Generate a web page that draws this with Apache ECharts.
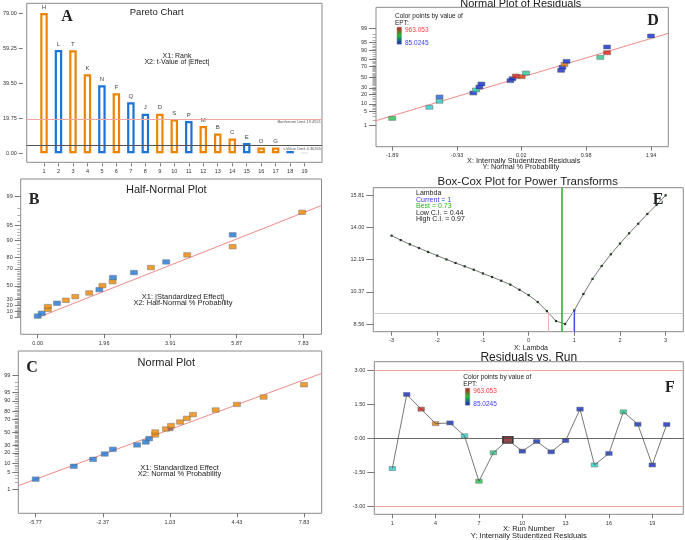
<!DOCTYPE html>
<html>
<head>
<meta charset="utf-8">
<script src="https://cdn.jsdelivr.net/npm/echarts@6/dist/echarts.min.js"></script>
<style>
  html, body { margin: 0; padding: 0; background: #fff; }
  #main { width: 685px; height: 540px; }
</style>
</head>
<body>
<div id="main"></div>
<script>
// ---- A: Pareto chart ----
const aRank = [1, 2, 3, 4, 5, 6, 7, 8, 9, 10, 11, 12, 13, 14, 15, 16, 17, 18, 19];
const aTerm = ['H', 'L', 'T', 'K', 'N', 'F', 'Q', 'J', 'D', 'S', 'P', 'M', 'B', 'C', 'E', 'O', 'G', '', ''];
const aTValue = [79.0, 58.2, 58.0, 44.5, 38.3, 33.8, 28.7, 22.3, 22.3, 19.1, 18.2, 15.4, 11.1, 8.3, 5.8, 3.2, 3.2, 1.3, 0.35];
const aSign = [1, -1, 1, 1, -1, 1, -1, -1, 1, 1, -1, 1, 1, 1, -1, 1, 1, -1, 0];
const aYTicks = [0, 19.75, 39.5, 59.25, 79];
const aBonferroni = 19.4551;
const aTLimit = 4.30265;

// ---- B: half-normal plot ----
const bEffect = [0.0, 0.12, 0.30, 0.30, 0.57, 0.83, 1.11, 1.52, 1.82, 1.91, 2.21, 2.22, 2.84, 3.34, 3.79, 4.41, 5.75, 5.75, 7.80];
const bProb = [2.6, 7.3, 14.0, 18.6, 24.0, 28.8, 34.5, 40.0, 44.9, 50.4, 55.6, 60.6, 66.2, 71.3, 76.4, 81.8, 86.9, 92.2, 97.5];
const bSign = [-1, -1, 1, 1, -1, 1, 1, 1, -1, 1, 1, -1, -1, 1, -1, 1, 1, -1, 1];
const bFitX = [0, 8.37];
const bFitP = [0, 98.3];
const bXTicks = [0, 1.96, 3.91, 5.87, 7.83];
const bYLabels = [0, 10, 20, 30, 50, 70, 80, 90, 95, 99];

// ---- C: normal plot ----
const cEffect = [-5.77, -3.84, -2.86, -2.27, -1.86, -0.63, -0.19, -0.02, 0.29, 0.29, 0.83, 1.07, 1.09, 1.55, 1.89, 2.20, 3.35, 4.43, 5.78, 7.83];
const cProb = [2.8, 8.3, 13.5, 18.8, 24.4, 30.3, 34.6, 39.8, 45.7, 50.5, 55.4, 55.4, 60.7, 66.3, 71.6, 76.5, 81.9, 87.3, 92.5, 97.4];
const cSign = [-1, -1, -1, -1, -1, -1, -1, -1, 1, 1, 1, 0, 1, 1, 1, 1, 1, 1, 1, 1];
const cFitX = [-6.65, 8.725];
const cFitP = [1.47, 99.2];
const cXTicks = [-5.77, -2.37, 1.03, 4.43, 7.83];
const nYLabels = [1, 5, 10, 20, 30, 50, 70, 80, 90, 95, 99];

// ---- D: normal plot of residuals ----
const dResid = [-1.89, -1.34, -1.19, -1.19, -0.69, -0.65, -0.60, -0.57, -0.14, -0.11, -0.06, 0.025, 0.09, 0.61, 0.63, 0.66, 0.69, 1.19, 1.29, 1.29, 1.94];
const dProb = [2.4, 7.4, 12.3, 17.0, 22.2, 26.8, 31.6, 36.9, 43.1, 46.8, 51.9, 50.6, 57.5, 62.5, 67.7, 72.7, 77.3, 82.6, 87.7, 92.4, 97.5];
const dEpt = [600, 430, 440, 220, 120, 470, 100, 100, 110, 110, 963, 900, 500, 100, 100, 790, 100, 520, 960, 100, 100];
const dFitX = [-2.13, 2.196];
const dFitP = [1.85, 98.15];
const dXTicks = [-1.89, -0.93, 0.02, 0.98, 1.94];

// ---- E: Box-Cox ----
const eLambda = [-3, -2.8, -2.6, -2.4, -2.2, -2, -1.8, -1.6, -1.4, -1.2, -1, -0.8, -0.6, -0.4, -0.2, 0,
  0.2, 0.4, 0.6, 0.8, 1, 1.2, 1.4, 1.6, 1.8, 2, 2.2, 2.4, 2.6, 2.8, 3];
const eLnResid = [13.54, 13.29, 13.05, 12.84, 12.62, 12.41, 12.20, 12.00, 11.81, 11.62, 11.41, 11.21, 11.00, 10.78, 10.49, 10.19,
  9.80, 9.29, 8.73, 8.56, 9.33, 10.25, 11.10, 11.83, 12.49, 13.09, 13.67, 14.21, 14.76, 15.27, 15.81];
const eYTicks = [8.56, 10.37, 12.19, 14.00, 15.81];
const eCI = 9.18, eBest = 0.73, eLow = 0.44, eHigh = 0.97, eCurrent = 1;

// ---- F: residuals vs run ----
const fRun = [1, 2, 3, 4, 5, 6, 7, 8, 9, 10, 11, 12, 13, 14, 15, 16, 17, 18, 19, 20];
const fResid = [-1.33, 1.95, 1.30, 0.66, 0.69, 0.12, -1.89, -0.63, -0.06, -0.56, -0.13, -0.59, -0.09, 1.30, -1.17, -0.66, 1.18, 0.63, -1.17, 0.62];
const fEpt = [430, 100, 960, 790, 100, 430, 600, 520, 963, 100, 110, 100, 110, 100, 440, 120, 520, 100, 100, 100];
const fSelected = 9;
const eptRange = [85.0245, 963.053];

// normal quantile (Acklam)
function probit(p) {
  const a = [-3.969683028665376e+01, 2.209460984245205e+02, -2.759285104469687e+02, 1.383577518672690e+02, -3.066479806614716e+01, 2.506628277459239e+00];
  const b = [-5.447609879822406e+01, 1.615858368580409e+02, -1.556989798598866e+02, 6.680131188771972e+01, -1.328068155288572e+01];
  const c = [-7.784894002430293e-03, -3.223964580411365e-01, -2.400758277161838e+00, -2.549732539343734e+00, 4.374664141464968e+00, 2.938163982698783e+00];
  const d = [7.784695709041462e-03, 3.224671290700398e-01, 2.445134137142996e+00, 3.754408661907416e+00];
  const pl = 0.02425;
  if (p < pl) {
    const q = Math.sqrt(-2 * Math.log(p));
    return (((((c[0] * q + c[1]) * q + c[2]) * q + c[3]) * q + c[4]) * q + c[5]) / ((((d[0] * q + d[1]) * q + d[2]) * q + d[3]) * q + 1);
  }
  if (p > 1 - pl) {
    const q = Math.sqrt(-2 * Math.log(1 - p));
    return -(((((c[0] * q + c[1]) * q + c[2]) * q + c[3]) * q + c[4]) * q + c[5]) / ((((d[0] * q + d[1]) * q + d[2]) * q + d[3]) * q + 1);
  }
  const q = p - 0.5, r = q * q;
  return (((((a[0] * r + a[1]) * r + a[2]) * r + a[3]) * r + a[4]) * r + a[5]) * q / (((((b[0] * r + b[1]) * r + b[2]) * r + b[3]) * r + b[4]) * r + 1);
}
const zN = pct => probit(pct / 100);            // normal % probability scale
const zH = pct => probit(0.5 + pct / 200);      // half-normal % probability scale

function minorList(skip) {
  const out = [];
  for (let p = 1; p < 10; p++) out.push(p);
  for (let p = 10; p <= 90; p += 2) out.push(p);
  for (let p = 91; p < 100; p++) out.push(p);
  return out.filter(p => skip.indexOf(p) < 0);
}

const FONT = '"Liberation Sans", Arial, sans-serif';
const ORANGE = '#EC8400', BLUE = '#1C74D6', GRAY_FRAME = '#8a8a8a';
const FIT_RED = '#f08a8a';
const signColor = s => s > 0 ? ORANGE : (s < 0 ? BLUE : '#8b2a2a');

function valAxis(grid, min, max, ticks, fmt, o) {
  o = o || {};
  const tick = o.tick || 4;
  return {
    type: 'value', gridIndex: grid, min: min, max: max,
    position: o.position, offset: o.offset || 0,
    axisLine: { show: false, onZero: false },
    splitLine: { show: false },
    axisTick: { show: true, length: tick, customValues: o.tickValues || ticks,
      lineStyle: { color: o.tickColor || '#555', width: 0.8 } },
    axisLabel: { show: o.noLabel ? false : true, customValues: ticks, formatter: fmt,
      fontSize: 5.5, color: '#333', fontFamily: FONT, margin: tick + 2 }
  };
}
function probAxis(grid, min, max, labels, zf, o) {
  const zs = labels.map(zf);
  return valAxis(grid, min, max, zs, v => {
    for (let i = 0; i < zs.length; i++) if (Math.abs(zs[i] - v) < 1e-6) return String(labels[i]);
    return '';
  }, o);
}

const fx2 = v => v.toFixed(2);
const chart = echarts.init(document.getElementById('main'), null, { renderer: 'canvas' });

const grids = [
  { left: 25, top: 3.3, width: 297, height: 159 },        // A
  { left: 20.7, top: 179, width: 300.8, height: 155.3 },   // B
  { left: 18.3, top: 351, width: 303.4, height: 162.3 },   // C
  { left: 376, top: 7.3, width: 292.3, height: 139.4 },    // D
  { left: 373.3, top: 187.7, width: 310, height: 144 },    // E
  { left: 374.3, top: 361.7, width: 309, height: 152.6 }   // F
].map(g => Object.assign({ show: true, borderColor: GRAY_FRAME, borderWidth: 1, backgroundColor: 'transparent' }, g));

const xAxes = [
  valAxis(0, -0.19, 20.2, aRank, v => String(v), { tick: 3, offset: 1, position: 'bottom' }),
  valAxis(1, -0.5, 8.37, bXTicks, fx2, { tick: 4, position: 'bottom' }),
  valAxis(2, -6.65, 8.725, cXTicks, fx2, { tick: 4, position: 'bottom' }),
  valAxis(3, -2.13, 2.196, dXTicks, fx2, { tick: 4, position: 'bottom' }),
  valAxis(4, -3.40, 3.387, [-3, -2, -1, 0, 1, 2, 3], v => String(v), { tick: 4, position: 'bottom' }),
  valAxis(5, -0.246, 21.15, [1, 4, 7, 10, 13, 16, 19], v => String(v), { tick: 4, position: 'bottom' })
];
const minorOpt = (vals) => ({ noLabel: true, tick: 3.5, tickColor: '#9a9a9a', tickValues: vals, position: 'left' });
const yAxes = [
  valAxis(0, -5.07, 84.5, aYTicks, fx2, { tick: 4, offset: 4, position: 'left' }),
  probAxis(1, -0.355, 2.95, bYLabels, zH, { tick: 6, position: 'left' }),
  probAxis(2, -3.306, 3.32, nYLabels, zN, { tick: 6, position: 'left' }),
  probAxis(3, -3.33, 3.33, nYLabels, zN, { tick: 7, position: 'left' }),
  valAxis(4, 8.128, 16.24, eYTicks, fx2, { tick: 7, position: 'left' }),
  valAxis(5, -3.354, 3.40, [-3, -1.5, 0, 1.5, 3], fx2, { tick: 7, position: 'left' }),
  // minor probability ticks
  valAxis(1, -0.355, 2.95, [], null, minorOpt(minorList(bYLabels).map(zH))),
  valAxis(2, -3.306, 3.32, [], null, minorOpt(minorList(nYLabels).map(zN))),
  valAxis(3, -3.33, 3.33, [], null, minorOpt(minorList(nYLabels).map(zN)))
];

const ptStyle = (c) => ({ color: c, borderColor: '#777', borderWidth: 0.6 });
const limitLabel = txt => ({ show: true, position: 'insideEndBottom', formatter: txt, fontSize: 4, color: '#555', fontFamily: FONT, distance: 1 });

const series = [
  // 0 A bars
  {
    type: 'bar', xAxisIndex: 0, yAxisIndex: 0, barWidth: 7.5,
    data: aRank.map((r, i) => ({
      value: [r, aTValue[i]],
      itemStyle: aSign[i] === 0
        ? { color: '#c8c8c8', borderWidth: 0 }
        : (aTValue[i] < 2 ? { color: signColor(aSign[i]), borderWidth: 0 }
          : { color: '#fff', borderColor: signColor(aSign[i]), borderWidth: 2.2 })
    })),
    label: { show: true, position: 'top', distance: 3, fontSize: 6, color: '#444', fontFamily: FONT,
      formatter: p => aTerm[p.dataIndex] },
    markLine: {
      silent: true, symbol: 'none', animation: false,
      data: [
        { yAxis: aBonferroni, lineStyle: { color: '#f4a3a3', width: 1.2, type: 'solid' }, label: limitLabel('Bonferroni Limit 19.4551') },
        { yAxis: aTLimit, lineStyle: { color: '#555', width: 1, type: 'solid' }, label: limitLabel('t-Value Limit 4.30265') }
      ]
    }
  },
  // 1 B points
  {
    type: 'scatter', xAxisIndex: 1, yAxisIndex: 1, symbol: 'rect', symbolSize: [7, 4.5],
    data: bEffect.map((x, i) => ({ value: [x, zH(bProb[i])], itemStyle: ptStyle(signColor(bSign[i])) }))
  },
  // 2 B fit
  {
    type: 'line', xAxisIndex: 1, yAxisIndex: 1, symbol: 'none', z: 1,
    lineStyle: { color: FIT_RED, width: 1 },
    data: bFitX.map((x, i) => [x, zH(bFitP[i])])
  },
  // 3 C points
  {
    type: 'scatter', xAxisIndex: 2, yAxisIndex: 2, symbol: 'rect',
    data: cEffect.map((x, i) => ({
      value: [x, zN(cProb[i])],
      symbolSize: cSign[i] === 0 ? [5, 3.5] : [7, 4.5],
      itemStyle: ptStyle(cSign[i] === 0 ? '#a0504a' : signColor(cSign[i]))
    }))
  },
  // 4 C fit
  {
    type: 'line', xAxisIndex: 2, yAxisIndex: 2, symbol: 'none', z: 1,
    lineStyle: { color: FIT_RED, width: 1 },
    data: cFitX.map((x, i) => [x, zN(cFitP[i])])
  },
  // 5 D points
  {
    type: 'scatter', xAxisIndex: 3, yAxisIndex: 3, symbol: 'rect', symbolSize: [7, 4],
    itemStyle: { borderColor: '#666', borderWidth: 0.6 },
    data: dResid.map((x, i) => [x, zN(dProb[i]), dEpt[i]])
  },
  // 6 D fit
  {
    type: 'line', xAxisIndex: 3, yAxisIndex: 3, symbol: 'none', z: 1,
    lineStyle: { color: FIT_RED, width: 1 },
    data: dFitX.map((x, i) => [x, zN(dFitP[i])])
  },
  // 7 E curve
  {
    type: 'line', xAxisIndex: 4, yAxisIndex: 4, symbol: 'rect', symbolSize: 2.2,
    itemStyle: { color: '#1f3a1f' },
    lineStyle: { color: '#555', width: 0.8 },
    data: eLambda.map((x, i) => [x, eLnResid[i]]),
    markLine: {
      silent: true, symbol: 'none', animation: false, label: { show: false },
      data: [
        { yAxis: eCI, lineStyle: { color: '#cfcfcf', width: 1, type: 'solid' } },
        [{ coord: [eLow, 8.128], lineStyle: { color: '#f6b0b0', width: 1, type: 'solid' } }, { coord: [eLow, eCI] }],
        [{ coord: [eHigh, 8.128], lineStyle: { color: '#f6b0b0', width: 1, type: 'solid' } }, { coord: [eHigh, eCI] }],
        [{ coord: [eCurrent, 8.128], lineStyle: { color: '#4646ff', width: 1.2, type: 'solid' } },
         { coord: [eCurrent, eLnResid[eLambda.indexOf(eCurrent)]] }],
        { xAxis: eBest, lineStyle: { color: '#2cb52c', width: 1.6, type: 'solid' } }
      ]
    }
  },
  // 8 F connecting line
  {
    type: 'line', xAxisIndex: 5, yAxisIndex: 5, symbol: 'none',
    lineStyle: { color: '#555', width: 0.8 },
    data: fRun.map((r, i) => [r, fResid[i]]),
    markLine: {
      silent: true, symbol: 'none', animation: false, label: { show: false },
      data: [
        { yAxis: 3, lineStyle: { color: '#f4a3a3', width: 1.2, type: 'solid' } },
        { yAxis: -3, lineStyle: { color: '#f4a3a3', width: 1.2, type: 'solid' } },
        { yAxis: 0, lineStyle: { color: '#444', width: 0.8, type: 'solid' } }
      ]
    }
  },
  // 9 F selected run highlight
  {
    type: 'scatter', xAxisIndex: 5, yAxisIndex: 5, symbol: 'rect', symbolSize: [10, 6.5],
    itemStyle: { color: '#8a1c1c', borderColor: '#222', borderWidth: 1.4 },
    data: [[fRun[fSelected - 1], fResid[fSelected - 1]]]
  },
  // 10 F points
  {
    type: 'scatter', xAxisIndex: 5, yAxisIndex: 5, symbol: 'rect', symbolSize: [6.5, 4],
    itemStyle: { borderColor: '#666', borderWidth: 0.6 },
    data: fRun.map((r, i) => [r, fResid[i], fEpt[i]]).filter((d, i) => i !== fSelected - 1)
  }
];

function txt(x, y, s, size, o) {
  o = o || {};
  return {
    type: 'text', x: x, y: y, silent: true, z: 100,
    style: {
      text: s, fill: o.fill || '#222',
      font: (o.weight || 'normal') + ' ' + size + 'px ' + (o.family || FONT),
      align: o.align || 'center', verticalAlign: 'middle'
    }
  };
}
const SERIF = '"Liberation Serif", "Times New Roman", serif';
function eptLegend(x, y) {
  return [
    txt(x, y, 'Color points by value of', 6.5, { align: 'left' }),
    txt(x, y + 6.6, 'EPT:', 6.5, { align: 'left' }),
    {
      type: 'rect', silent: true, z: 100,
      shape: { x: x + 2, y: y + 10.5, width: 4.5, height: 17 },
      style: {
        fill: new echarts.graphic.LinearGradient(0, 0, 0, 1, [
          { offset: 0, color: '#d01010' }, { offset: 0.5, color: '#20c030' }, { offset: 1, color: '#1020c8' }
        ]),
        stroke: '#888', lineWidth: 0.5
      }
    },
    txt(x + 10, y + 13.3, '963.053', 6.5, { align: 'left', fill: '#ff3a3a' }),
    txt(x + 10, y + 26.3, '85.0245', 6.5, { align: 'left', fill: '#3a3aff' })
  ];
}

const graphics = [
  // A
  txt(156.7, 12.7, 'Pareto Chart', 9.5),
  txt(67, 17, 'A', 16, { weight: 'bold', family: SERIF }),
  txt(177, 56, 'X1: Rank', 7),
  txt(177, 62.3, 'X2: t-Value of |Effect|', 7),
  // B
  txt(166.3, 189.7, 'Half-Normal Plot', 11),
  txt(34, 200, 'B', 16, { weight: 'bold', family: SERIF }),
  txt(183, 297, 'X1: |Standardized Effect|', 7.5),
  txt(183, 303.3, 'X2: Half-Normal % Probability', 7.5),
  // C
  txt(166.3, 363.3, 'Normal Plot', 11),
  txt(32, 368, 'C', 16, { weight: 'bold', family: SERIF }),
  txt(179.5, 467.7, 'X1: Standardized Effect', 7.5),
  txt(179.5, 474.3, 'X2: Normal % Probability', 7.5),
  // D
  txt(520.8, 3.5, 'Normal Plot of Residuals', 11),
  txt(653, 21, 'D', 16, { weight: 'bold', family: SERIF }),
  txt(523.7, 160.7, 'X: Internally Studentized Residuals', 7.3),
  txt(520.8, 166.5, 'Y: Normal % Probability', 7.3),
  // E
  txt(527.7, 181.7, 'Box-Cox Plot for Power Transforms', 11.5),
  txt(658, 200, 'E', 16, { weight: 'bold', family: SERIF }),
  txt(416, 193.3, 'Lambda', 7, { align: 'left' }),
  txt(416, 199.8, 'Current = 1', 7, { align: 'left', fill: '#3a3aff' }),
  txt(416, 206.3, 'Best = 0.73', 7, { align: 'left', fill: '#22bb22' }),
  txt(416, 212.8, 'Low C.I. = 0.44', 7, { align: 'left' }),
  txt(416, 219.3, 'High C.I. = 0.97', 7, { align: 'left' }),
  txt(531, 348.3, 'X: Lambda', 7),
  // F
  txt(528.8, 357.5, 'Residuals vs. Run', 12),
  txt(670, 388, 'F', 16, { weight: 'bold', family: SERIF }),
  txt(528.8, 529, 'X: Run Number', 7.5),
  txt(528.8, 536, 'Y: Internally Studentized Residuals', 7.5)
].concat(eptLegend(395, 16.7)).concat(eptLegend(463.3, 377.7));

chart.setOption({
  animation: false,
  backgroundColor: '#fff',
  grid: grids,
  xAxis: xAxes,
  yAxis: yAxes,
  visualMap: {
    type: 'continuous', show: false, dimension: 2,
    min: eptRange[0], max: eptRange[1], seriesIndex: [5, 10],
    inRange: { color: ['#0b22c8', '#1a78e0', '#22d2cc', '#20c040', '#e07a10', '#d81810'] }
  },
  series: series,
  graphic: graphics
});
</script>
</body>
</html>
